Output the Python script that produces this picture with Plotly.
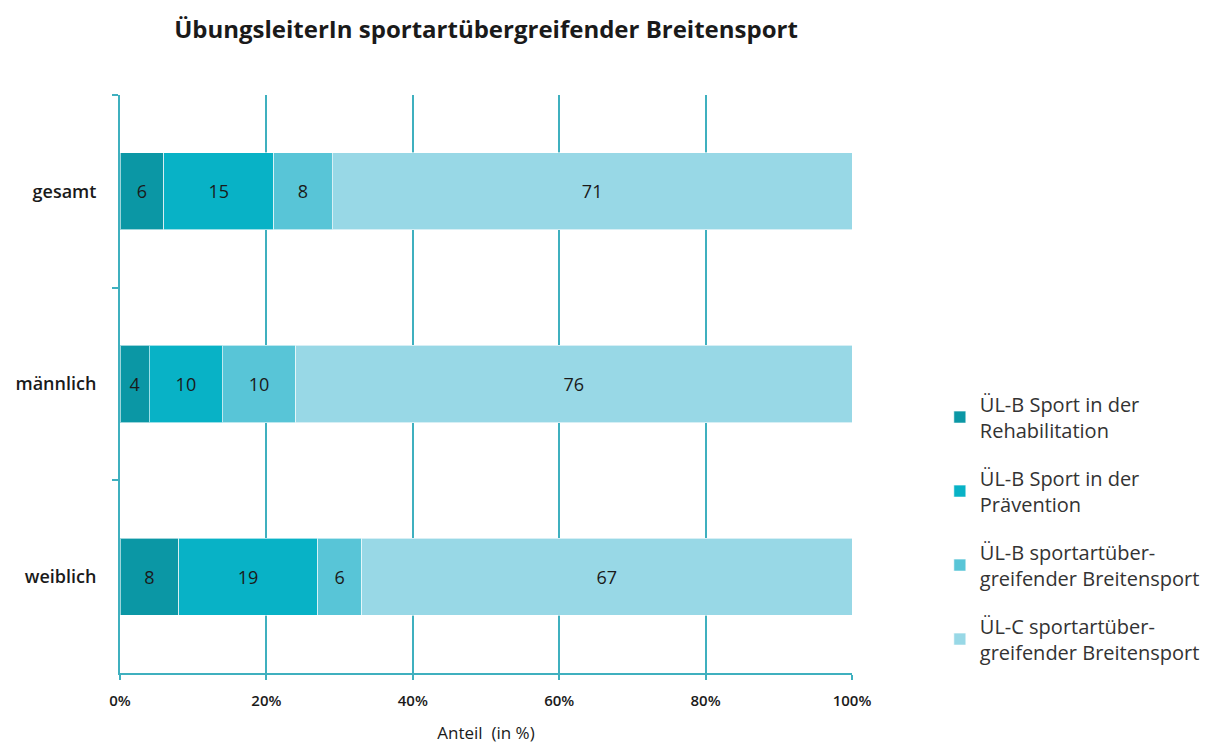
import plotly.graph_objects as go

categories = ["gesamt", "männlich", "weiblich"]
series_names = [
    "ÜL-B Sport in der<br>Rehabilitation",
    "ÜL-B Sport in der<br>Prävention",
    "ÜL-B sportartüber-<br>greifender Breitensport",
    "ÜL-C sportartüber-<br>greifender Breitensport",
]
reha = [6, 4, 8]
praevention = [15, 10, 19]
ulb_breiten = [8, 10, 6]
ulc_breiten = [71, 76, 67]
colors = ["#0b97a5", "#08b2c6", "#58c5d7", "#98d8e6"]
x_ticks = [0, 20, 40, 60, 80, 100]
x_tick_labels = ["0%", "20%", "40%", "60%", "80%", "100%"]

FONT = "Open Sans"
fig = go.Figure()
for i, (name, vals) in enumerate(zip(series_names, [reha, praevention, ulb_breiten, ulc_breiten])):
    fig.add_trace(go.Bar(
        y=categories, x=vals, name=name, orientation="h",
        marker=dict(color=colors[i], line=dict(color="rgba(255,255,255,0.6)", width=1)),
        text=vals, texttemplate="%{text}", textposition="inside",
        insidetextanchor="middle", textangle=0,
        textfont=dict(family=FONT, size=18, color="#1a1a1a"),
        width=0.4, legendgroup=f"g{i}",
        hoverinfo="skip",
    ))

grid_col = "#3fb0bf"
fig.update_layout(
    barmode="stack",
    width=1211, height=748,
    paper_bgcolor="white", plot_bgcolor="white",
    margin=dict(l=112, r=367, t=87, b=83),
    title=dict(text="<b>ÜbungsleiterIn sportartübergreifender Breitensport</b>",
               x=0.5, xref="paper", y=0.971, yanchor="middle",
               font=dict(family=FONT, size=24, color="#1a1a1a")),
    font=dict(family=FONT, color="#1a1a1a"),
    legend=dict(x=1.12, xanchor="left", y=0.499, yanchor="top",
                font=dict(family=FONT, size=20, color="#333333"),
                tracegroupgap=19, traceorder="grouped", itemclick=False),
    showlegend=True,
    uniformtext=dict(minsize=10, mode="show"),
)
fig.update_xaxes(
    range=[0, 100], tickvals=x_ticks, ticktext=x_tick_labels,
    showgrid=True, gridcolor=grid_col, gridwidth=1.5,
    showline=True, linecolor=grid_col, linewidth=2,
    ticks="outside", tickcolor=grid_col, ticklen=5, tickwidth=1.5,
    ticklabelstandoff=8, automargin=False,
    tickfont=dict(family=FONT, size=15, color="#1a1a1a", weight=600),
    title=dict(text="Anteil  (in %)", font=dict(family=FONT, size=17, color="#1a1a1a"), standoff=18),
    zeroline=False, fixedrange=True,
)
fig.update_yaxes(
    categoryorder="array", categoryarray=categories, autorange="reversed",
    showline=True, linecolor=grid_col, linewidth=2,
    ticks="outside", tickson="boundaries", tickcolor=grid_col, ticklen=6, tickwidth=1.5,
    ticklabelstandoff=18, automargin=False,
    tickfont=dict(family=FONT, size=18, color="#1a1a1a", weight=600),
    showgrid=False, fixedrange=True,
)
fig.write_html("out.html")
